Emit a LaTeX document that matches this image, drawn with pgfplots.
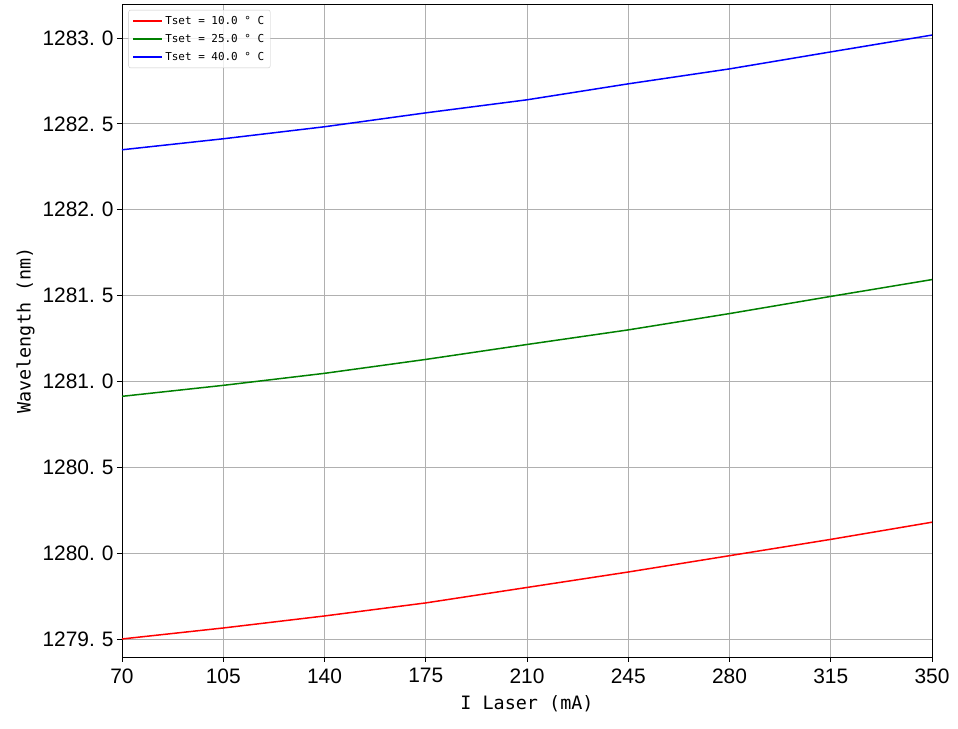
\documentclass[border=0pt]{standalone}
\usepackage{fontspec}
\setmainfont{DejaVu Sans Mono}
\newfontfamily\tickfont{Liberation Sans}
\usepackage{pgfplots}
\pgfplotsset{compat=1.18}
\usetikzlibrary{calc}

\definecolor{mplgreen}{RGB}{0,128,0}
\definecolor{gridgray}{RGB}{176,176,176}

\begin{document}
\begin{tikzpicture}
\begin{axis}[
  name=ax,
  scale only axis,
  width=810bp, height=653bp,
  xmin=70, xmax=350,
  ymin=1279.395, ymax=1283.198,
  xtick={70,105,140,175,210,245,280,315,350},
  ytick={1279.5,1280,1280.5,1281,1281.5,1282,1282.5,1283},
  yticklabels={1279.\,\,5,1280.\,\,0,1280.\,\,5,1281.\,\,0,1281.\,\,5,1282.\,\,0,1282.\,\,5,1283.\,\,0},
  xticklabels={70,105,140,175,210,245,280,315,350},
  tick align=outside,
  xtick pos=bottom, ytick pos=left,
  major tick length=5bp,
  tick style={black, line width=0.8bp},
  tick label style={font=\tickfont\fontsize{21}{21}\selectfont},
  xticklabel style={yshift=-3bp},
  grid=major,
  major grid style={gridgray, line width=0.8bp},
  axis line style={black, line width=0.8bp},
  xlabel={I Laser (mA)},
  ylabel={Wavelength (nm)},
  label style={font=\fontsize{18.5}{18.5}\selectfont},
  xlabel style={yshift=-5bp},
  ylabel style={yshift=1bp},
  legend style={at={(0.008,0.991)}, anchor=north west,
    font=\fontsize{11}{13}\selectfont,
    draw=gridgray!70, rounded corners=2bp, fill=white, fill opacity=0.8,
    text opacity=1, inner xsep=4bp, inner ysep=4bp, row sep=4.5bp},
  legend cell align=left,
  legend image code/.code={\draw[#1, line width=1.6bp] (0bp,0bp) -- (29bp,0bp);},
]
\addplot[red, line width=1.5bp] coordinates {
  (70,1279.500) (105,1279.564) (140,1279.634) (175,1279.710) (210,1279.800)
  (245,1279.890) (280,1279.985) (315,1280.080) (350,1280.180)
};
\addlegendentry{Tset = 10.0 ° C}
\addplot[mplgreen, line width=1.5bp] coordinates {
  (70,1280.913) (105,1280.977) (140,1281.047) (175,1281.128) (210,1281.215)
  (245,1281.300) (280,1281.395) (315,1281.495) (350,1281.593)
};
\addlegendentry{Tset = 25.0 ° C}
\addplot[blue, line width=1.5bp] coordinates {
  (70,1282.349) (105,1282.413) (140,1282.483) (175,1282.564) (210,1282.640)
  (245,1282.733) (280,1282.820) (315,1282.919) (350,1283.017)
};
\addlegendentry{Tset = 40.0 ° C}
\end{axis}
\pgfresetboundingbox
\path ($(ax.south west)+(-122bp,-72bp)$) rectangle ($(ax.north east)+(26bp,4bp)$);
\end{tikzpicture}
\end{document}
